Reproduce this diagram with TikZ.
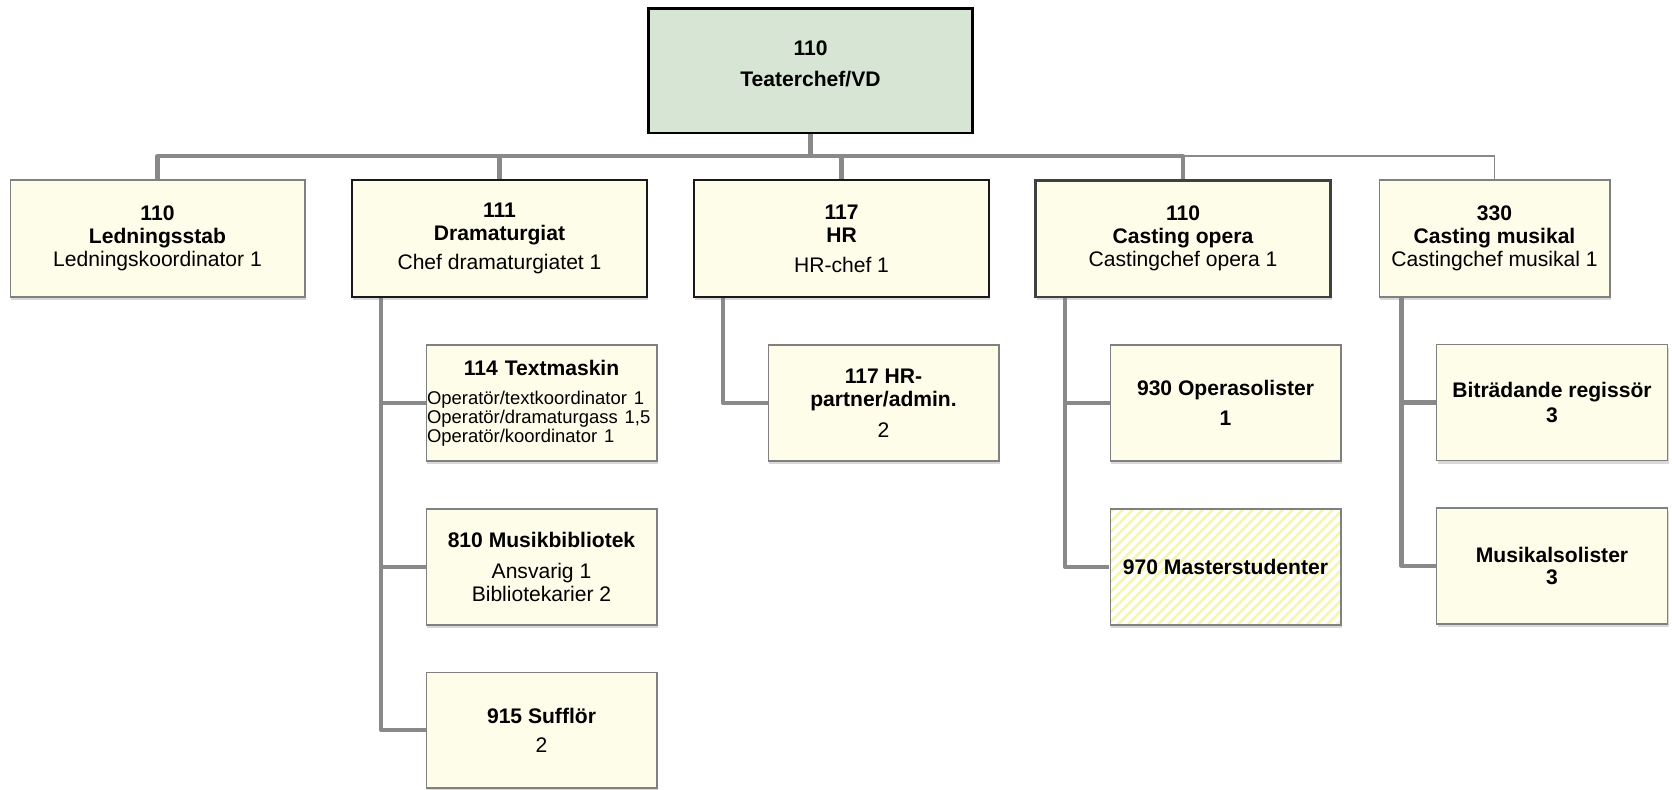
\documentclass[tikz,border=0pt]{standalone}
\usepackage{fontspec}
\setmainfont{Liberation Sans}
\usetikzlibrary{calc,shadows,patterns.meta,backgrounds}

\definecolor{boxfill}{RGB}{254,253,233}
\definecolor{vdfill}{RGB}{214,229,212}
\definecolor{linegray}{RGB}{137,137,137}
\definecolor{stripe}{RGB}{246,246,178}

\begin{document}
\begin{tikzpicture}[x=0.02cm,y=-0.02cm,
	font=\fontsize{12}{13}\selectfont,
	unit/.style={rectangle, align=center, inner sep=2pt, fill=boxfill, draw=black!50, line width=0.6pt,
		minimum width=5.9cm, minimum height=2.34cm,
		drop shadow={shadow xshift=0.6pt, shadow yshift=-1.8pt, opacity=0.3}},
	headunit/.style={unit, draw=black!90, line width=1.3pt},
	subunit/.style={unit, minimum width=4.62cm, minimum height=2.32cm},
	trunk/.style={draw=linegray, line width=2.3pt, line join=round},
	twig/.style={draw=linegray, line width=0.9pt}
	]
	\useasboundingbox (0,0) rectangle (1672,789);
	
	\node[rectangle, align=center, fill=vdfill, draw=black, line width=1.7pt, minimum width=6.5cm, minimum height=2.5cm, text depth=8pt] (vd) at (810.5,70.5) {\textbf{110}\\[4.6pt]\textbf{Teaterchef/VD}};
	
	\node[unit] (stab) at (157.5,238.5) {\textbf{110}\\\textbf{Ledningsstab}\\Ledningskoordinator 1};
	\node[headunit] (drama) at (499.5,238.5) {\textbf{111}\\\textbf{Dramaturgiat}\\[4pt]Chef dramaturgiatet 1};
	\node[headunit] (hr) at (841.5,238.5) {\textbf{117}\\\textbf{HR}\\[4pt]HR-chef 1};
	\node[headunit, draw=black!75, line width=1.7pt] (opera) at (1183,238.5) {\textbf{110}\\\textbf{Casting opera}\\Castingchef opera 1};
	\node[unit, minimum width=4.62cm] (musikal) at (1494.5,238.5) {\textbf{330}\\\textbf{Casting musikal}\\Castingchef musikal 1};
	
	\node[subunit, text width=4.58cm, align=left, inner xsep=0pt] (textm) at (541.5,403) {{\centering\textbf{114 Textmaskin}\par}\vspace{5.9pt}{\fontsize{10.5}{10.8}\selectfont Operatör/textkoordinator 1\\Operatör/dramaturgass 1,5\\Operatör/koordinator 1\par}};
	\node[subunit] (musbib) at (541.5,567) {\textbf{810 Musikbibliotek}\\[4.3pt]Ansvarig 1\\Bibliotekarier 2};
	\node[subunit] (sufflor) at (541.5,730) {\textbf{915 Sufflör}\\[3.6pt]2};
	
	\node[subunit] (hrp) at (883.5,403) {\textbf{117 HR-}\\\textbf{partner/admin.}\\[4.6pt]2};
	
	\node[subunit] (opsol) at (1225.5,403) {\textbf{930 Operasolister}\\[4.4pt]\textbf{1}};
	\node[subunit, preaction={fill=white}, fill=none, pattern={Lines[angle=45,distance=4pt,line width=1.5pt]}, pattern color=stripe] (master) at (1225.5,567) {\textbf{970 Masterstudenter}};
	
	\node[subunit] (bitr) at (1552,402.5) {\textbf{Biträdande regissör}\\[0.8pt]\textbf{3}};
	\node[subunit] (muso) at (1552,566) {\textbf{Musikalsolister}\\\textbf{3}};
	
	\begin{scope}[on background layer]
		\coordinate (bus) at (810.5,156);
		\draw[trunk] (vd.south) -- (bus);
		\draw[trunk] (stab.north) |- (bus) -| (opera.north);
		\draw[trunk] (drama.north) -- (drama.north |- bus);
		\draw[trunk] (hr.north) -- (hr.north |- bus);
		\draw[twig] (opera.north |- bus) -| (musikal.north);
		
		\draw[trunk] ($(drama.south west)+(30,0)$) |- (textm.west);
		\draw[trunk] ($(drama.south west)+(30,0)$) |- (musbib.west);
		\draw[trunk] ($(drama.south west)+(30,0)$) |- (sufflor.west);
		\draw[trunk] ($(hr.south west)+(30,0)$) |- (hrp.west);
		\draw[trunk] ($(opera.south west)+(31,0)$) |- (opsol.west);
		\draw[trunk] ($(opera.south west)+(31,0)$) |- (master.west);
		\draw[trunk] ($(musikal.south west)+(23,0)$) |- (bitr.west);
		\draw[trunk] ($(musikal.south west)+(23,0)$) |- (muso.west);
	\end{scope}
\end{tikzpicture}
\end{document}
